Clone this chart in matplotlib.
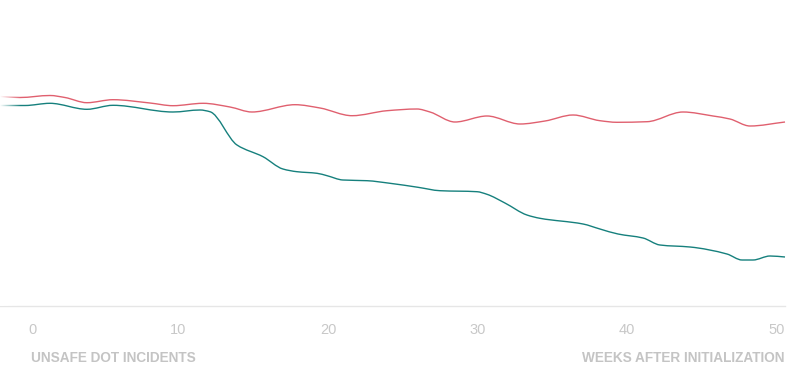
import matplotlib
matplotlib.use("Agg")
import matplotlib.pyplot as plt
from matplotlib.path import Path
from matplotlib.patches import PathPatch
import numpy as np

# Data (week, value)
red_weeks = [-2.47, -1.14, 0.87, 1.87, 3.34, 5.08, 7.55, 9.09, 11.10, 12.90, 14.37, 17.25,
             18.92, 21.06, 23.40, 25.40, 26.27, 27.94, 30.08, 32.29, 33.96, 35.83, 37.63,
             38.77, 40.78, 43.18, 45.19, 46.32, 47.66, 50.0]
red_values = [104.75, 104.25, 105.25, 104.25, 101.65, 103.15, 101.5, 100.15, 101.35, 99.5, 97,
              100.65, 99, 95.15, 97.65, 98.5, 97, 92, 95, 91, 92.5, 95.5, 92.65, 91.85, 92.15,
              97, 95, 93.5, 90, 92]

teal_weeks = [-2.47, -0.80, 0.87, 3.34, 5.08, 9.09, 10.90, 11.56, 13.37, 15.11, 16.44, 17.38,
              18.72, 19.39, 20.45, 22.06, 23.60, 25.47, 26.94, 29.41, 30.08, 31.28, 32.75,
              33.62, 36.50, 37.63, 38.84, 40.51, 41.64, 43.65, 46.12, 47.13, 47.86, 49.00, 50.0]
teal_values = [100.25, 100.25, 101.35, 98.35, 100.35, 97, 98, 97.15, 80.5, 74.65, 68.5, 67.15,
               66.35, 65.15, 63, 62.65, 61.35, 59.35, 57.65, 57.15, 55.85, 51.5, 45.5, 43.85,
               41, 38.5, 36, 34, 30.5, 29.5, 26, 23, 23, 25, 24.5]

xticks = [0, 10, 20, 30, 40, 50]
x_title = "WEEKS AFTER INITIALIZATION"
y_title = "UNSAFE DOT INCIDENTS"

plt.rcParams['font.family'] = ['Liberation Sans', 'DejaVu Sans']


def monotone_path(xs, ys):
    """Smooth monotone-x cubic path through the points (like d3.curveMonotoneX)."""
    x = np.asarray(xs, float)
    y = np.asarray(ys, float)
    n = len(x)
    h = np.diff(x)
    d = np.diff(y) / h
    m = np.zeros(n)
    m[0], m[-1] = d[0], d[-1]
    for i in range(1, n - 1):
        if d[i - 1] * d[i] <= 0:
            m[i] = 0
        else:
            w1 = 2 * h[i] + h[i - 1]
            w2 = h[i] + 2 * h[i - 1]
            m[i] = (w1 + w2) / (w1 / d[i - 1] + w2 / d[i])
    verts = [(x[0], y[0])]
    codes = [Path.MOVETO]
    for i in range(n - 1):
        dx = h[i] / 3
        verts += [(x[i] + dx, y[i] + m[i] * dx), (x[i + 1] - dx, y[i + 1] - m[i + 1] * dx),
                  (x[i + 1], y[i + 1])]
        codes += [Path.CURVE4] * 3
    return Path(verts, codes)


W, H = 812, 378
fig = plt.figure(figsize=(W / 100, H / 100), dpi=100)
ax = fig.add_axes([0, (H - 306) / H, 785 / W, 306 / H])
ax.set_xlim(-2.47, 50.0)
ax.set_ylim(0, 153)

for xs, ys, col in [(red_weeks, red_values, "#e0606f"), (teal_weeks, teal_values, "#16807d")]:
    ax.add_patch(PathPatch(monotone_path(xs, ys), facecolor="none", edgecolor=col, lw=1.0,
                           joinstyle="round", clip_on=False))

# left fade
grad = np.ones((2, 64, 4))
grad[..., 3] = np.linspace(1, 0, 64)[None, :]
ax.imshow(grad, extent=(-2.47, -1.1, 0, 153), aspect="auto", zorder=5, interpolation="bilinear")

for s in ["top", "left", "right"]:
    ax.spines[s].set_visible(False)
ax.spines["bottom"].set_color("#e6e6e6")
ax.spines["bottom"].set_linewidth(1.0)
ax.set_yticks([])
ax.set_xticks(xticks)
ax.set_xticklabels([str(t) for t in xticks], ha="right")
ax.tick_params(axis="x", length=0, pad=12, labelsize=10.5, labelcolor="#c8c8c8")

fig.text(31 / W, 1 - 358 / H, y_title, ha="left", va="center", fontsize=9.8,
         fontweight="bold", color="#c4c4c4")
fig.text(785 / W, 1 - 358 / H, x_title, ha="right", va="center", fontsize=9.8,
         fontweight="bold", color="#c4c4c4")

fig.savefig("out.png", dpi=100, facecolor="white")
